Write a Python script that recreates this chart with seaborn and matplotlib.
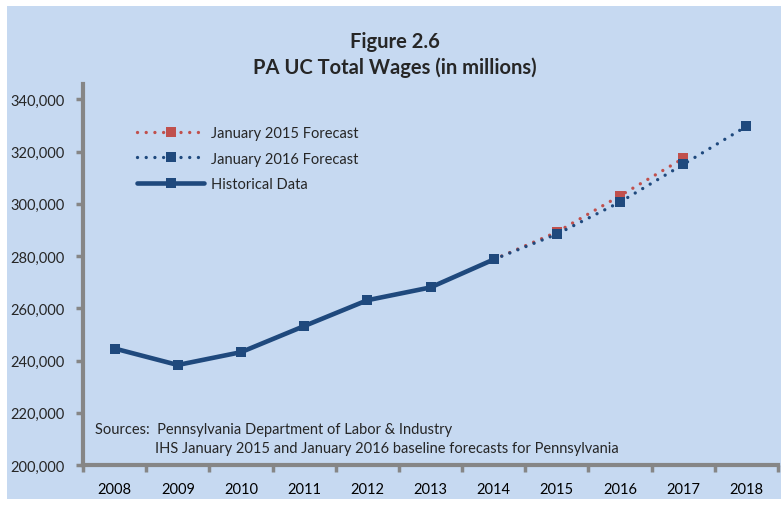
import seaborn as sns
import matplotlib.pyplot as plt
import pandas as pd
from matplotlib.patches import Rectangle
from matplotlib.lines import Line2D
from matplotlib.ticker import FuncFormatter

# values (millions of dollars)
hist_years = [2008, 2009, 2010, 2011, 2012, 2013, 2014]
hist_wages = [244600, 238300, 243200, 253200, 263100, 268000, 278700]

f15_years = [2014, 2015, 2016, 2017]
f15_wages = [278700, 289200, 303100, 317400]

f16_years = [2014, 2015, 2016, 2017, 2018]
f16_wages = [278700, 288400, 300700, 315100, 329700]

blue = "#1F497D"
red = "#C0504D"
bg = "#C6D9F1"
grey = "#868686"

sns.set_theme(style="ticks")
plt.rcParams["font.family"] = ["Lato", "DejaVu Sans"]

df = pd.concat([
    pd.DataFrame({"year": hist_years, "wages": hist_wages, "series": "Historical Data"}),
    pd.DataFrame({"year": f15_years, "wages": f15_wages, "series": "January 2015 Forecast"}),
    pd.DataFrame({"year": f16_years, "wages": f16_wages, "series": "January 2016 Forecast"}),
])

fig = plt.figure(figsize=(7.81, 5.06), dpi=100, facecolor="white")
fig.patches.append(Rectangle((7 / 781, 1 - 500 / 506), 1, 493 / 506,
                             transform=fig.transFigure, facecolor=bg,
                             edgecolor="none", zorder=-10))
ax = fig.add_axes([83 / 781, 1 - 466 / 506, 695 / 781, 381 / 506])
ax.set_facecolor("none")

dot = (0, (0.01, 2.6))
sns.lineplot(data=df[df.series == "January 2015 Forecast"], x="year", y="wages",
             color=red, lw=2.4, ax=ax, marker="s", markersize=6.5,
             markeredgewidth=0, zorder=3)
sns.lineplot(data=df[df.series == "January 2016 Forecast"], x="year", y="wages",
             color=blue, lw=2.4, ax=ax, marker="s", markersize=6.5,
             markeredgewidth=0, zorder=4)
sns.lineplot(data=df[df.series == "Historical Data"], x="year", y="wages",
             color=blue, lw=3.3, ax=ax, marker="s", markersize=6.5,
             markeredgewidth=0, zorder=5)
for ln in ax.lines[:2]:
    ln.set_linestyle(dot)
    ln.set_dash_capstyle("round")

ax.set_xlim(2007.5, 2018.5)
ax.set_ylim(200000, 345900)
ax.set_yticks(range(200000, 340001, 20000))
ax.yaxis.set_major_formatter(FuncFormatter(lambda v, p: f"{int(v):,}"))
ax.set_xticks(range(2008, 2019))
ax.set_xticks([y + 0.5 for y in range(2007, 2019)], minor=True)
ax.tick_params(axis="x", which="major", length=0, pad=12, labelsize=10.5, colors="black")
ax.tick_params(axis="x", which="minor", length=5, width=2.5, color=grey)
ax.tick_params(axis="y", length=5, width=2.5, color=grey, labelsize=10.5, pad=8)
for s in ["top", "right"]:
    ax.spines[s].set_visible(False)
for s in ["left", "bottom"]:
    ax.spines[s].set_color(grey)
    ax.spines[s].set_linewidth(3)
ax.set_xlabel("")
ax.set_ylabel("")

handles = [
    Line2D([], [], color=red, lw=2.4, ls=dot, dash_capstyle="round",
           marker="s", markersize=6.5, markeredgewidth=0),
    Line2D([], [], color=blue, lw=2.4, ls=dot, dash_capstyle="round",
           marker="s", markersize=6.5, markeredgewidth=0),
    Line2D([], [], color=blue, lw=3.3, marker="s", markersize=6.5, markeredgewidth=0),
]
fig.legend(handles, ["January 2015 Forecast", "January 2016 Forecast", "Historical Data"],
           loc="upper left", bbox_to_anchor=(124 / 781, 1 - 114 / 506),
           frameon=False, fontsize=10.5, handlelength=4.6, handletextpad=0.45,
           labelspacing=0.78)

fig.text(395 / 781, 1 - 42 / 506, "Figure 2.6", ha="center", va="center",
         fontsize=14.5, fontweight="bold")
fig.text(395 / 781, 1 - 68 / 506, "PA UC Total Wages (in millions)", ha="center",
         va="center", fontsize=14.5, fontweight="bold")
fig.text(95 / 781, 1 - 430 / 506, "Sources:  Pennsylvania Department of Labor & Industry",
         ha="left", va="center", fontsize=10.5)
fig.text(155 / 781, 1 - 449 / 506,
         "IHS January 2015 and January 2016 baseline forecasts for Pennsylvania",
         ha="left", va="center", fontsize=10.5)

fig.savefig("out.png", dpi=100, facecolor="white")
